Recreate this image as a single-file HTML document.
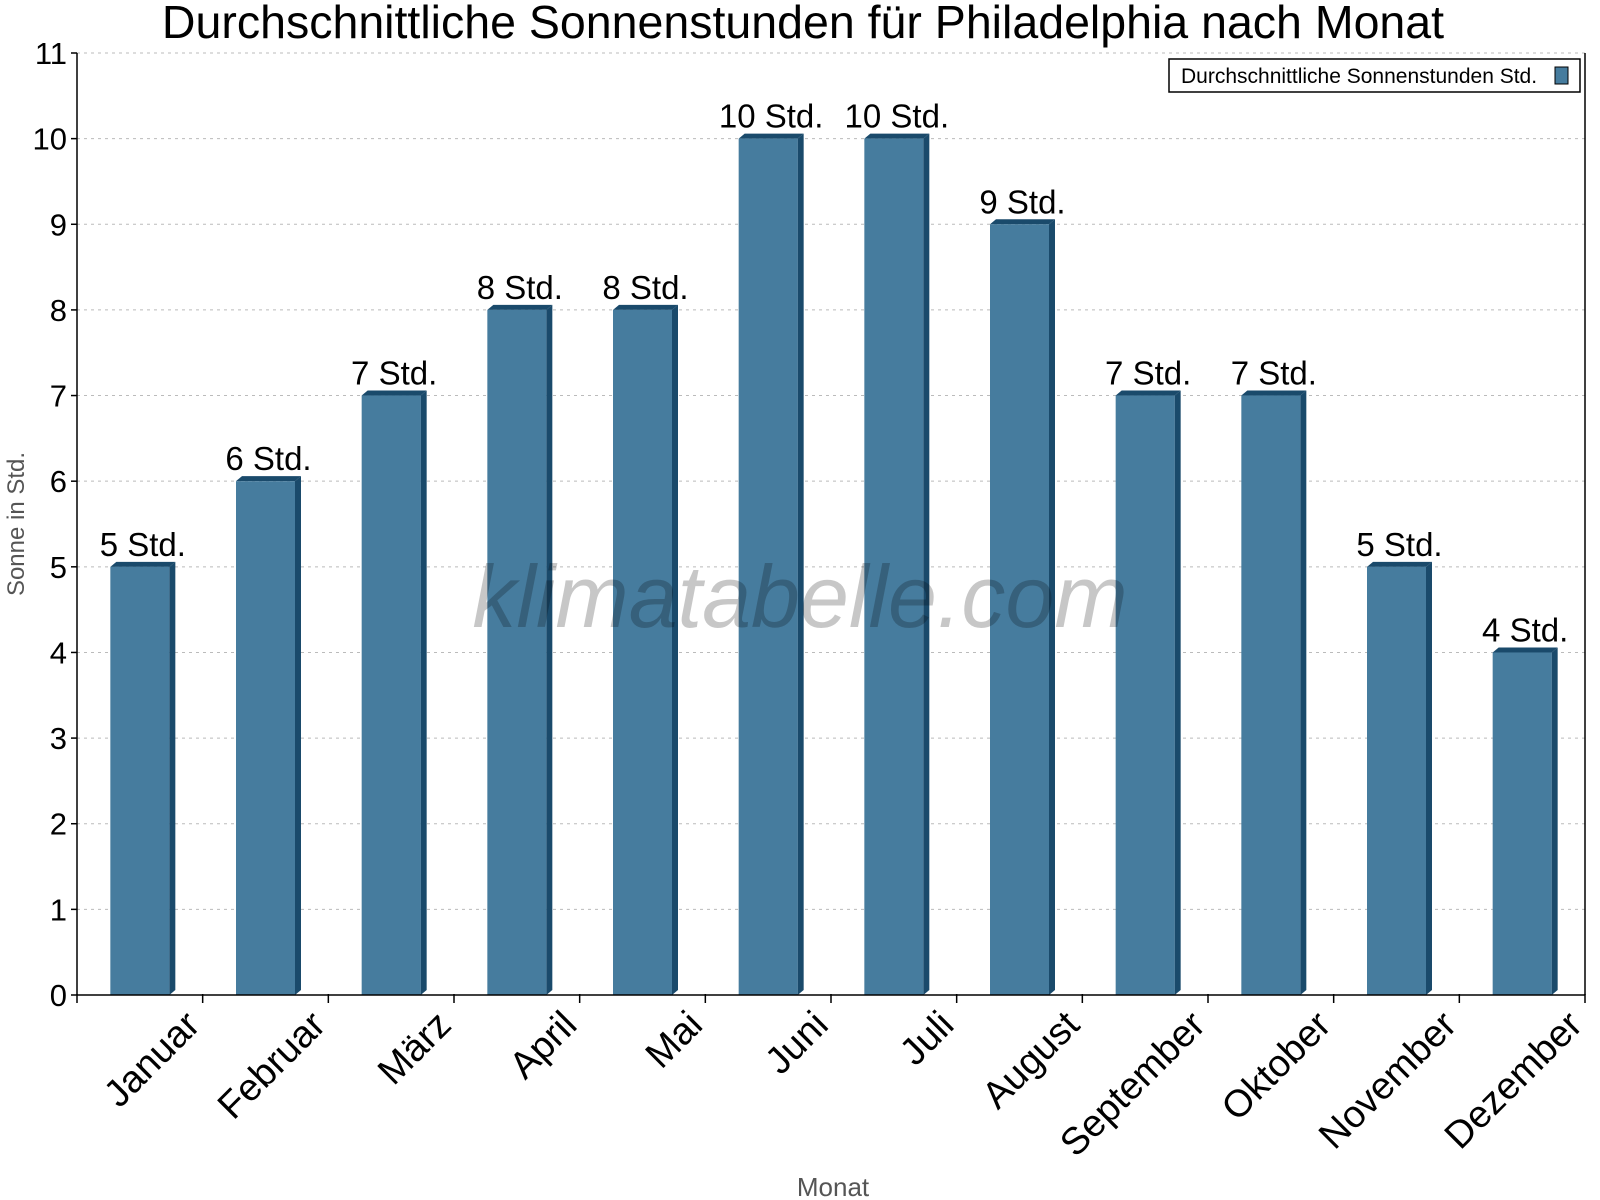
<!DOCTYPE html>
<html><head><meta charset="utf-8"><style>
html,body{margin:0;padding:0;background:#fff;}
svg{display:block;font-family:"Liberation Sans",Arial,sans-serif;}
</style></head><body>
<svg id="chart" width="1600" height="1200">
<text x="803" y="38" font-size="46.5" text-anchor="middle">Durchschnittliche Sonnenstunden für Philadelphia nach Monat</text>
<g id="grid"></g>
<g id="bars"></g>
<text x="800" y="627" font-size="88" text-anchor="middle" fill="#000" fill-opacity="0.22" font-style="italic">klimatabelle.com</text>
<g id="axes"></g>
<text transform="translate(24,524) rotate(-90)" font-size="24" fill="#555" text-anchor="middle">Sonne in Std.</text>
<text x="833" y="1196" font-size="26" fill="#555" text-anchor="middle">Monat</text>
<g>
<rect x="1169" y="59" width="411" height="33" fill="#fff" stroke="#000" stroke-width="1.5"/>
<text x="1181" y="83" font-size="21">Durchschnittliche Sonnenstunden Std.</text>
<rect x="1555" y="67" width="13" height="17" fill="#467c9e" stroke="#000" stroke-width="1"/>
</g>
</svg>
<script>
const categories=["Januar","Februar","März","April","Mai","Juni","Juli","August","September","Oktober","November","Dezember"];
const values=[5,6,7,8,8,10,10,9,7,7,5,4];
const yTicks=[0,1,2,3,4,5,6,7,8,9,10,11];
const valueLabels=["5 Std.","6 Std.","7 Std.","8 Std.","8 Std.","10 Std.","10 Std.","9 Std.","7 Std.","7 Std.","5 Std.","4 Std."];
const X0=77,X1=1585,Y0=995,Y1=53,YMAX=11;
const NS="http://www.w3.org/2000/svg";
const yS=v=>Y0-(Y0-Y1)*v/YMAX;
const bw=(X1-X0)/categories.length;
const xC=i=>X0+bw*(i+0.5);
function mk(tag,attrs,parent){const e=document.createElementNS(NS,tag);for(const k in attrs)e.setAttribute(k,attrs[k]);parent.appendChild(e);return e;}
const grid=document.getElementById('grid'),bars=document.getElementById('bars'),axes=document.getElementById('axes');
yTicks.forEach(t=>{
 const y=yS(t);
 if(t>0){const g=mk('line',{x1:X0,x2:X1,y1:y,y2:y,stroke:'#bbb','stroke-dasharray':'3,4','stroke-width':1},grid);
 
 }
 const tk=mk('line',{x1:X0-6,x2:X0,y1:y,y2:y,stroke:'#000','stroke-width':1.5},axes);
 
 
 const tl=mk('text',{x:X0-10,y:y+11,'font-size':31,'text-anchor':'end'},axes);tl.textContent=t;
 
 
});
values.forEach((v,i)=>{
 const c=xC(i),fw=59,l=c-fw/2,r=c+fw/2,top=yS(v),d=6;
 const side=mk('polygon',{points:`${r},${top} ${r+d},${top-5} ${r+d},${Y0-5} ${r},${Y0}`,fill:'#1a4a6b'},bars);
 
 
 const tp=mk('polygon',{points:`${l},${top} ${l+d},${top-5} ${r+d},${top-5} ${r},${top}`,fill:'#1a4a6b'},bars);
 
 
 const b=mk('rect',{x:l,y:top,width:fw,height:Y0-top,fill:'#467c9e'},bars);
 
 
 const vl=mk('text',{x:c+3,y:top-11,'font-size':33,'text-anchor':'middle'},bars);vl.textContent=valueLabels[i];
 
 
 const xl=mk('text',{transform:`translate(${c+62},${Y0+32}) rotate(-45)`,'font-size':38,'text-anchor':'end'},axes);xl.textContent=categories[i];
 
 
});
for(let i=0;i<=categories.length;i++){
 const x=X0+bw*i;
 const t=mk('line',{x1:x,x2:x,y1:Y0-1,y2:Y0+8,stroke:'#000','stroke-width':1.5},axes);
 
 
}
const ya=mk('line',{x1:X0,x2:X0,y1:Y1,y2:Y0,stroke:'#000','stroke-width':1.5},axes);


const xa=mk('line',{x1:X0,x2:X1,y1:Y0,y2:Y0,stroke:'#000','stroke-width':1.5},axes);


const ra=mk('line',{x1:X1,x2:X1,y1:Y1,y2:Y0,stroke:'#000','stroke-width':1.5},axes);


</script>
</body></html>
